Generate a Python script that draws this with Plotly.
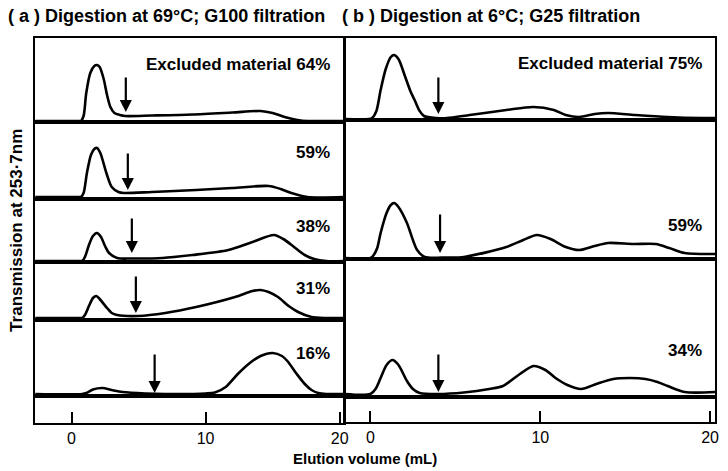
import plotly.graph_objects as go

W, H = 728, 471

# ---------------- data (elution volume mL, relative transmission) ----------------
# (a) Digestion at 69°C; G100 filtration
vol_a64 = [-2.7, 0.5, 0.7, 0.9, 1.1, 1.4, 1.7, 1.9, 2.1, 2.4, 2.65, 2.9, 3.2, 3.6, 4.0, 6.0, 9.0, 12.0, 14.1, 15.0, 15.9, 17.1, 18.0, 20.3]
tr_a64 = [0, 0, 0, 5, 28, 48, 55, 56, 54, 42, 26, 14, 8, 6, 5, 5.5, 6.5, 8.5, 10, 8, 4, 0.5, 0, 0]

vol_a59 = [-2.7, 0.5, 0.7, 0.9, 1.15, 1.45, 1.7, 1.9, 2.15, 2.6, 3.0, 3.5, 3.9, 6.0, 9.3, 12.0, 14.7, 15.6, 16.4, 17.6, 20.3]
tr_a59 = [0, 0, 0, 4, 24, 42, 48, 49, 44, 24, 10, 5, 4, 5, 7, 9, 11, 8, 4, 0, 0]

vol_a38 = [-2.7, 0.6, 0.8, 1.0, 1.3, 1.6, 1.9, 2.2, 2.5, 2.8, 3.4, 4.5, 6.8, 9.0, 11.7, 13.5, 15.1, 15.8, 16.6, 17.4, 18.1, 19.0, 20.3]
tr_a38 = [0, 0, 0, 4, 16, 25, 28, 24, 15, 8, 3, 2.5, 3, 6, 11, 19, 26, 22, 14, 6, 2, 0, 0]

vol_a31 = [-2.7, 0.6, 0.8, 1.0, 1.3, 1.6, 1.85, 2.1, 2.65, 3.0, 3.4, 5.0, 7.0, 9.3, 12.2, 13.5, 14.1, 14.7, 15.4, 16.2, 16.9, 17.9, 19.0, 20.3]
tr_a31 = [0, 0, 0, 3, 12, 20, 22, 19, 10, 5, 3, 2, 5, 11, 21, 27, 28, 26, 21, 12, 6, 1, 0, 0]

vol_a16 = [-2.7, 0.8, 1.1, 1.6, 2.3, 3.0, 3.8, 5.5, 7.0, 10.0, 10.7, 11.5, 12.4, 13.3, 14.1, 15.0, 15.7, 16.1, 16.8, 17.4, 17.9, 18.4, 19.0, 20.3]
tr_a16 = [0, 0, 1, 4.5, 6, 4, 2, 0.5, 0, 0.5, 1.5, 7, 20, 31, 38, 41, 38, 33, 20, 10, 4, 1, 0, 0]

# (b) Digestion at 6°C; G25 filtration
vol_b75 = [-1.5, -0.1, 0.1, 0.35, 0.6, 0.9, 1.2, 1.4, 1.65, 2.05, 2.35, 2.6, 2.9, 3.15, 3.9, 4.5, 5.85, 8.0, 9.6, 10.8, 11.5, 12.3, 13.2, 14.0, 15.6, 17.5, 19.5, 20.3]
tr_b75 = [0, 0, 1, 8, 29, 50, 62, 64, 60, 42, 28, 19, 8, 3, 1, 1, 4, 9, 12, 9, 4, 2, 5, 6, 4, 2, 1, 1]

vol_b59 = [-1.5, 0.0, 0.15, 0.4, 0.6, 0.95, 1.2, 1.4, 1.65, 2.15, 2.5, 2.75, 3.2, 4.5, 5.5, 8.0, 9.0, 9.8, 10.6, 11.5, 12.3, 13.2, 14.0, 15.5, 16.8, 17.6, 18.5, 20.3]
tr_b59 = [0, 0, 2, 10, 25, 45, 53, 55, 51, 35, 18, 8, 1, 0.5, 1, 11, 18, 23, 19, 11, 8, 12, 15, 14, 14, 10, 5, 4]

vol_b34 = [-1.5, 0.0, 0.3, 0.6, 0.95, 1.3, 1.65, 2.15, 2.5, 2.9, 4.0, 5.5, 7.0, 7.8, 8.8, 9.6, 10.3, 10.9, 11.6, 12.4, 13.3, 14.3, 15.3, 16.2, 16.9, 17.5, 18.5, 20.3]
tr_b34 = [0, 0, 5, 16, 29, 34, 29, 13, 5, 1, 0, 1.5, 5, 8, 20, 28, 24, 16, 9, 5, 10, 15, 16, 15, 12, 8, 2, 2]

# void-volume arrows (mL)
arrow_vol_a = [4.05, 4.2, 4.5, 4.8, 6.2]
arrow_vol_b = [4.0, 4.1, 4.0]

labels_a = ["Excluded material 64%", "59%", "38%", "31%", "16%"]
labels_b = ["Excluded material 75%", "59%", "34%"]

ticks = [0, 10, 20]

# ---------------- layout helpers ----------------
FONT = "Liberation Sans, Arial, sans-serif"


def px(xp):
    return xp / W


def py(yp):
    return 1 - yp / H


fig = go.Figure()
layout = dict(width=W, height=H, margin=dict(l=0, r=0, t=0, b=0),
              paper_bgcolor="white", plot_bgcolor="white", showlegend=False)
annotations = []

panel_a = dict(xl=35, xr=346, x0=72, scale=13.5)
panel_b = dict(xl=347, xr=720, x0=373, scale=17.1)

# strips: (top, bottom, baseline)
strips_a = [(38, 122, 121), (122, 199, 197), (199, 262, 261), (262, 320, 318), (320, 396, 394)]
strips_b = [(38, 120, 119), (120, 259, 258), (259, 397, 394)]
axis_strip_a = (396, 423)
axis_strip_b = (397, 422)

curves_a = [(vol_a64, tr_a64), (vol_a59, tr_a59), (vol_a38, tr_a38), (vol_a31, tr_a31), (vol_a16, tr_a16)]
curves_b = [(vol_b75, tr_b75), (vol_b59, tr_b59), (vol_b34, tr_b34)]
arrow_tip_a = [9, 7, 8, 5, 1]
arrow_len_a = [36, 38, 36, 38, 40]
arrow_tip_b = [5, 5, 2]
arrow_len_b = [38, 40, 39]
label_y_a = [65, 153, 226, 288, 353]
label_y_b = [64, 225, 350]

axis_common = dict(showline=True, mirror=True, linecolor="black", linewidth=1.8,
                   showgrid=False, zeroline=False, fixedrange=True)

k = 0


def add_strip(panel, strip, curve, tip, alen, avol, label, label_y, label_x):
    global k
    k += 1
    sx = "" if k == 1 else str(k)
    top, bot, base = strip
    xr0 = (panel["xl"] - panel["x0"]) / panel["scale"]
    xr1 = (panel["xr"] - panel["x0"]) / panel["scale"]
    layout["xaxis" + sx] = dict(axis_common, domain=[px(panel["xl"]), px(panel["xr"])],
                                range=[xr0, xr1], anchor="y" + sx,
                                showticklabels=False, ticks="")
    layout["yaxis" + sx] = dict(axis_common, domain=[py(bot), py(top)],
                                range=[-(bot - base), base - top], anchor="x" + sx,
                                showticklabels=False, ticks="")
    fig.add_trace(go.Scatter(x=curve[0], y=curve[1], mode="lines",
                             line=dict(color="black", width=2.6, shape="spline", smoothing=0.8),
                             xaxis="x" + sx, yaxis="y" + sx, hoverinfo="skip"))
    annotations.append(dict(x=avol, y=tip, xref="x" + sx, yref="y" + sx, text="",
                            showarrow=True, arrowhead=2, arrowsize=1.1, arrowwidth=2.2,
                            arrowcolor="black", ax=0, ay=-alen))
    annotations.append(dict(x=px(label_x), y=py(label_y), xref="paper", yref="paper",
                            text=label, showarrow=False, xanchor="right", yanchor="middle",
                            font=dict(family=FONT, size=17, color="black", weight="bold")))


def add_axis_strip(panel, strip):
    global k
    k += 1
    sx = str(k)
    top, bot = strip
    xr0 = (panel["xl"] - panel["x0"]) / panel["scale"]
    xr1 = (panel["xr"] - panel["x0"]) / panel["scale"]
    layout["xaxis" + sx] = dict(axis_common, domain=[px(panel["xl"]), px(panel["xr"])],
                                range=[xr0, xr1], anchor="y" + sx,
                                tickvals=ticks, ticktext=[str(t) for t in ticks],
                                ticks="inside", ticklen=11, tickwidth=2, tickcolor="black",
                                tickfont=dict(family=FONT, size=16, color="black"))
    layout["yaxis" + sx] = dict(axis_common, domain=[py(bot), py(top)], range=[0, 1],
                                anchor="x" + sx, showticklabels=False, ticks="")
    # invisible trace so the axis subplot is created
    fig.add_trace(go.Scatter(x=ticks, y=[0.5] * len(ticks), mode="markers",
                             marker=dict(opacity=0), xaxis="x" + sx, yaxis="y" + sx,
                             hoverinfo="skip"))


for i in range(5):
    add_strip(panel_a, strips_a[i], curves_a[i], arrow_tip_a[i], arrow_len_a[i],
              arrow_vol_a[i], labels_a[i], label_y_a[i], 334)
add_axis_strip(panel_a, axis_strip_a)
for i in range(3):
    add_strip(panel_b, strips_b[i], curves_b[i], arrow_tip_b[i], arrow_len_b[i],
              arrow_vol_b[i], labels_b[i], label_y_b[i], 709)
add_axis_strip(panel_b, axis_strip_b)

# titles and axis labels
annotations.append(dict(x=px(6), y=py(16), xref="paper", yref="paper",
                        text="( a ) Digestion at 69°C; G100 filtration", showarrow=False,
                        xanchor="left", yanchor="middle",
                        font=dict(family=FONT, size=18, color="black", weight="bold")))
annotations.append(dict(x=px(342), y=py(16), xref="paper", yref="paper",
                        text="( b ) Digestion at 6°C; G25 filtration", showarrow=False,
                        xanchor="left", yanchor="middle",
                        font=dict(family=FONT, size=18, color="black", weight="bold")))
annotations.append(dict(x=px(16), y=py(230), xref="paper", yref="paper",
                        text="Transmission at 253·7nm", showarrow=False, textangle=-90,
                        xanchor="center", yanchor="middle",
                        font=dict(family=FONT, size=17, color="black", weight="bold")))
annotations.append(dict(x=px(368), y=py(458), xref="paper", yref="paper",
                        text="Elution volume (mL)", showarrow=False,
                        xanchor="center", yanchor="middle",
                        font=dict(family=FONT, size=15, color="black", weight="bold")))

layout["annotations"] = annotations
fig.update_layout(**layout)
fig.write_html("out.html")
